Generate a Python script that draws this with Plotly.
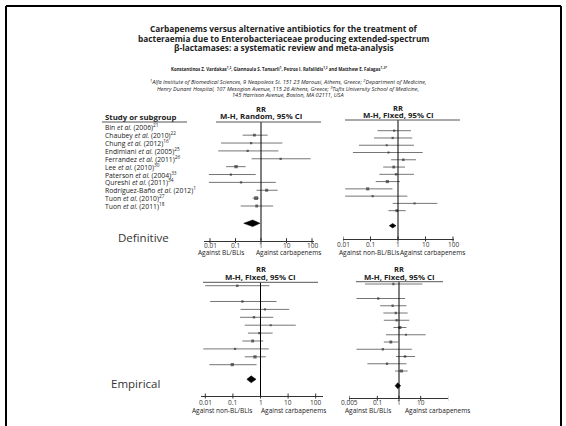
import math
import plotly.graph_objects as go

W, H = 566, 426

# ---------------- data ----------------
studies = [
    "Bin <i>et al.</i> (2006)<sup>21</sup>",
    "Chaubey <i>et al.</i> (2010)<sup>22</sup>",
    "Chung <i>et al.</i> (2012)<sup>16</sup>",
    "Endimiani <i>et al.</i> (2005)<sup>25</sup>",
    "Ferrandez <i>et al.</i> (2011)<sup>26</sup>",
    "Lee <i>et al.</i> (2010)<sup>30</sup>",
    "Paterson <i>et al.</i> (2004)<sup>33</sup>",
    "Qureshi <i>et al.</i> (2011)<sup>34</sup>",
    "Rodríguez-Baño <i>et al.</i> (2012)<sup>1</sup>",
    "Tuon <i>et al.</i> (2010)<sup>27</sup>",
    "Tuon <i>et al.</i> (2011)<sup>18</sup>",
]

# Panel A: definitive therapy, carbapenems vs BL/BLIs (M-H, Random)
a_rr = [None, 0.55, 0.41, 0.30, 5.9, 0.105, 0.066, 0.165, 1.66, 0.64, 0.68]
a_lo = [None, 0.19, 0.027, 0.021, 0.43, 0.043, 0.009, 0.009, 0.67, 0.47, 0.16]
a_hi = [None, 1.83, 6.9, 4.8, 89, 0.25, 0.62, 3.8, 4.5, 0.84, 3.0]
a_w = [None, 9, 3, 3, 3, 16, 3, 3, 10, 25, 8]
a_pool = [0.47, 0.21, 0.91]

# Panel B: definitive therapy, carbapenems vs non-BL/BLIs (M-H, Fixed)
b_rr = [0.73, 0.64, 0.39, 0.45, 1.56, 0.70, 0.85, 0.41, 0.079, 0.12, 4.0, 0.90]
b_lo = [0.18, 0.135, 0.038, 0.023, 0.56, 0.29, 0.21, 0.155, 0.012, 0.012, 0.64, 0.45]
b_hi = [2.96, 3.3, 3.8, 7.9, 4.5, 1.8, 3.8, 1.18, 0.63, 2.2, 27, 1.9]
b_w = [3, 3, 2, 2, 5, 8, 4, 12, 12, 3, 2, 8]
b_pool = [0.64, 0.48, 0.85]

# Panel C: empirical therapy, carbapenems vs non-BL/BLIs (M-H, Fixed)
c_rr = [0.144, None, 0.22, 1.45, 0.58, 2.35, 0.91, 0.52, 0.12, 0.63, 0.095]
c_lo = [0.01, None, 0.015, 0.19, 0.18, 0.27, 0.35, 0.22, 0.0085, 0.27, 0.014]
c_hi = [2.1, None, 3.8, 11, 2.9, 19, 2.75, 1.26, 2.0, 1.56, 0.72]
c_w = [4, None, 3, 2, 4, 2, 4, 8, 3, 14, 14]
c_pool = [0.46, 0.32, 0.69]

# Panel D: empirical therapy, carbapenems vs BL/BLIs (M-H, Fixed)
d_rr = [0.55, None, 0.11, 0.51, 0.71, 0.78, 1.1, 2.1, 0.42, 0.18, 1.9, 0.28, 1.3]
d_lo = [0.027, None, 0.011, 0.135, 0.19, 0.2, 0.55, 0.25, 0.2, 0.011, 0.73, 0.035, 0.66]
d_hi = [12, None, 1.9, 2.2, 2.5, 3.0, 2.2, 17, 0.93, 3.9, 5.5, 2.2, 2.5]
d_w = [3, None, 3, 3, 3, 3, 12, 2, 8, 3, 4, 3, 12]
d_pool = [0.87, 0.66, 1.2]

a_ticks = [0.01, 0.1, 1, 10, 100]
b_ticks = [0.01, 0.1, 1, 10, 100]
c_ticks = [0.01, 0.1, 1, 10, 100]
d_ticks = [0.005, 0.1, 1, 10, 200]
tick_labels = {0.005: "0.005", 0.01: "0.01", 0.1: "0.1", 1: "1", 10: "10", 100: "100", 200: "200"}

# ---------------- layout helpers ----------------
def px(x):
    return x / W

def py(y):
    return 1 - y / H

FONT = "Open Sans"
GREY = "#666666"
DARK = "#222222"

panels = [
    dict(name="1", rr=a_rr, lo=a_lo, hi=a_hi, w=a_w, pool=a_pool, ticks=a_ticks,
         x0=204, x1=314, one=261, dec=25.5, top=122, bot=240.7, row0=127.3, step=7.87,
         pool_row=12.2, dh=0.42, hl=(216, 321), method="M-H, Random, 95% CI",
         rr_y=108.5, mh_y=116, left="Against BL/BLIs", right="Against carbapenems",
         left_x=221, right_x=288, tl_y=245.5, lab_y=252.5),
    dict(name="2", rr=b_rr, lo=b_lo, hi=b_hi, w=b_w, pool=b_pool, ticks=b_ticks,
         x0=343, x1=454, one=398, dec=27.5, top=120, bot=239, row0=130.7, step=7.27,
         pool_row=13.07, dh=0.31, hl=(345, 460), method="M-H, Fixed, 95% CI",
         rr_y=108, mh_y=115, left="Against non-BL/BLIs", right="Against carbapenems",
         left_x=369, right_x=432, tl_y=244.5, lab_y=252.5),
    dict(name="3", rr=c_rr, lo=c_lo, hi=c_hi, w=c_w, pool=c_pool, ticks=c_ticks,
         x0=201, x1=323, one=260.5, dec=27.6, top=282.3, bot=396, row0=285.7, step=7.9,
         pool_row=11.85, dh=0.44, hl=(203, 318), method="M-H, Fixed, 95% CI",
         rr_y=268.5, mh_y=276.5, left="Against non-BL/BLIs", right="Against carbapenems",
         left_x=222, right_x=293, tl_y=402, lab_y=410),
    dict(name="4", rr=d_rr, lo=d_lo, hi=d_hi, w=d_w, pool=d_pool, ticks=d_ticks,
         x0=349, x1=448.3, one=399, dec=21.7, top=281.7, bot=398.3, row0=284, step=7.25,
         pool_row=14.03, dh=0.41, hl=(356, 443), method="M-H, Fixed, 95% CI",
         rr_y=268.5, mh_y=276.5, left="Against BL/BLIs", right="Against carbapenems",
         left_x=368, right_x=437, tl_y=402, lab_y=410),
]

fig = go.Figure()
shapes = []
annotations = []
layout = {}

for p in panels:
    n = p["name"]
    xa = "x" if n == "1" else "x" + n
    ya = "y" if n == "1" else "y" + n
    xkey = "xaxis" if n == "1" else "xaxis" + n
    ykey = "yaxis" if n == "1" else "yaxis" + n

    rows = list(range(len(p["rr"])))
    # CI lines
    lx, ly = [], []
    for r, lo, hi in zip(rows, p["lo"], p["hi"]):
        if lo is None:
            continue
        lx += [lo, hi, None]
        ly += [r, r, None]
    fig.add_trace(go.Scatter(x=lx, y=ly, mode="lines", xaxis=xa, yaxis=ya,
                             line=dict(color=GREY, width=0.9), hoverinfo="skip", showlegend=False))
    # point estimates
    mx, my, ms = [], [], []
    for r, v, w in zip(rows, p["rr"], p["w"]):
        if v is None:
            continue
        mx.append(v)
        my.append(r)
        ms.append(1.4 + 0.5 * math.sqrt(w))
    fig.add_trace(go.Scatter(x=mx, y=my, mode="markers", xaxis=xa, yaxis=ya,
                             marker=dict(symbol="square", size=ms, color="#333333",
                                         line=dict(width=0)),
                             showlegend=False))
    # pooled diamond
    est, lo, hi = p["pool"]
    pr, dh = p["pool_row"], p["dh"]
    fig.add_trace(go.Scatter(x=[lo, est, hi, est, lo], y=[pr, pr - dh, pr, pr + dh, pr],
                             mode="lines", fill="toself", fillcolor="black",
                             line=dict(color="black", width=0.5), xaxis=xa, yaxis=ya,
                             hoverinfo="skip", showlegend=False))

    lo_log = (p["x0"] - p["one"]) / p["dec"]
    hi_log = (p["x1"] - p["one"]) / p["dec"]
    ytop = (p["top"] - p["row0"]) / p["step"]
    ybot = (p["bot"] - p["row0"]) / p["step"]

    layout[xkey] = dict(
        type="log", range=[lo_log, hi_log], domain=[px(p["x0"]), px(p["x1"])],
        anchor=ya, showgrid=False, zeroline=False, showline=True,
        linecolor="#333333", linewidth=1, ticks="", showticklabels=False,
        fixedrange=True,
    )
    layout[ykey] = dict(
        range=[ybot, ytop], domain=[py(p["bot"]), py(p["top"])], anchor=xa,
        visible=False, showgrid=False, zeroline=False, fixedrange=True,
    )

    # crossing tick marks and their labels
    for t in p["ticks"]:
        shapes.append(dict(type="line", xref=xa, yref="paper", x0=t, x1=t,
                           y0=py(p["bot"] - 2.5), y1=py(p["bot"] + 2.5),
                           line=dict(color="#333333", width=1)))
        annotations.append(dict(text=tick_labels[t], x=math.log10(t), y=py(p["tl_y"]),
                                xref=xa, yref="paper", showarrow=False, xanchor="center",
                                yanchor="middle",
                                font=dict(family=FONT, size=6.5, color="#333333")))

    # x = 1 reference line
    shapes.append(dict(type="line", xref=xa, yref=ya + " domain", x0=1, x1=1, y0=0, y1=1,
                       line=dict(color="black", width=1)))
    # header rule
    shapes.append(dict(type="line", xref="paper", yref="paper",
                       x0=px(p["hl"][0]), x1=px(p["hl"][1]), y0=py(p["top"]), y1=py(p["top"]),
                       line=dict(color="#555555", width=1)))
    # header text
    annotations.append(dict(text="<b>RR</b>", x=px(p["one"]), y=py(p["rr_y"]), xref="paper",
                            yref="paper", showarrow=False, xanchor="center", yanchor="middle",
                            font=dict(family=FONT, size=7.5, color=DARK)))
    annotations.append(dict(text="<b>" + p["method"] + "</b>", x=px(p["one"]), y=py(p["mh_y"]),
                            xref="paper", yref="paper", showarrow=False, xanchor="center",
                            yanchor="middle", font=dict(family=FONT, size=7.8, color=DARK)))
    for txt, xx in ((p["left"], p["left_x"]), (p["right"], p["right_x"])):
        annotations.append(dict(text=txt, x=px(xx), y=py(p["lab_y"]), xref="paper",
                                yref="paper", showarrow=False, xanchor="center",
                                yanchor="middle", font=dict(family=FONT, size=6.5, color=DARK)))

# study labels aligned with rows of panel A
for i, s in enumerate(studies):
    annotations.append(dict(text=s, x=px(103), y=i, xref="paper", yref="y", showarrow=False,
                            xanchor="left", yanchor="middle",
                            font=dict(family=FONT, size=6.8, color=DARK)))
annotations.append(dict(text="<b>Study or subgroup</b>", x=px(102.5), y=py(116.5), xref="paper",
                        yref="paper", showarrow=False, xanchor="left", yanchor="middle",
                        font=dict(family=FONT, size=7.8, color=DARK)))
shapes.append(dict(type="line", xref="paper", yref="paper", x0=px(102), x1=px(187),
                   y0=py(122), y1=py(122), line=dict(color="#555555", width=1)))

# section labels
annotations.append(dict(text="Definitive", x=px(116), y=py(238), xref="paper", yref="paper",
                        showarrow=False, xanchor="left", yanchor="middle",
                        font=dict(family=FONT, size=11.5, color="#333333")))
annotations.append(dict(text="Empirical", x=px(109), y=py(383), xref="paper", yref="paper",
                        showarrow=False, xanchor="left", yanchor="middle",
                        font=dict(family=FONT, size=11.5, color="#333333")))

# title block
title_lines = [
    "Carbapenems versus alternative antibiotics for the treatment of",
    "bacteraemia due to Enterobacteriaceae producing extended-spectrum",
    "β-lactamases: a systematic review and meta-analysis",
]
for txt, yy in zip(title_lines, (28.5, 38.5, 48)):
    annotations.append(dict(text="<b>" + txt + "</b>", x=px(284), y=py(yy), xref="paper",
                            yref="paper", showarrow=False, xanchor="center", yanchor="middle",
                            font=dict(family=FONT, size=8.3, color=DARK)))

authors = ("Konstantinos Z. Vardakas<sup>1,2</sup>, Giannoula S. Tansarli<sup>1</sup>, "
           "Petros I. Rafailidis<sup>1,2</sup> and Matthew E. Falagas<sup>1–3*</sup>")
annotations.append(dict(text="<b>" + authors + "</b>", x=px(279), y=py(69), xref="paper",
                        yref="paper", showarrow=False, xanchor="center", yanchor="middle",
                        font=dict(family=FONT, size=4.4, color=DARK)))

affil = [
    "<sup>1</sup>Alfa Institute of Biomedical Sciences, 9 Neapoleos St. 151 23 Marousi, Athens, Greece; "
    "<sup>2</sup>Department of Medicine,",
    "Henry Dunant Hospital, 107 Mesogion Avenue, 115 26 Athens, Greece; "
    "<sup>3</sup>Tufts University School of Medicine,",
    "145 Harrison Avenue, Boston, MA 02111, USA",
]
for txt, yy in zip(affil, (82.5, 89, 95.3)):
    annotations.append(dict(text="<i>" + txt + "</i>", x=px(288), y=py(yy), xref="paper",
                            yref="paper", showarrow=False, xanchor="center", yanchor="middle",
                            font=dict(family=FONT, size=5.6, color=DARK)))

# slide frame (top, left, right)
for x0, y0, x1, y1 in ((6, 6, 561, 6), (6, 6, 6, 426), (561, 6, 561, 426)):
    shapes.append(dict(type="line", xref="paper", yref="paper", x0=px(x0), x1=px(x1),
                       y0=py(y0), y1=py(y1), line=dict(color="black", width=2)))

fig.update_layout(
    width=W, height=H, margin=dict(l=0, r=0, t=0, b=0),
    paper_bgcolor="white", plot_bgcolor="rgba(0,0,0,0)",
    showlegend=False, shapes=shapes, annotations=annotations,
    font=dict(family=FONT),
    **layout,
)

fig.write_html("out.html", config={"displayModeBar": False},
               post_script="document.body.style.margin='0';")
